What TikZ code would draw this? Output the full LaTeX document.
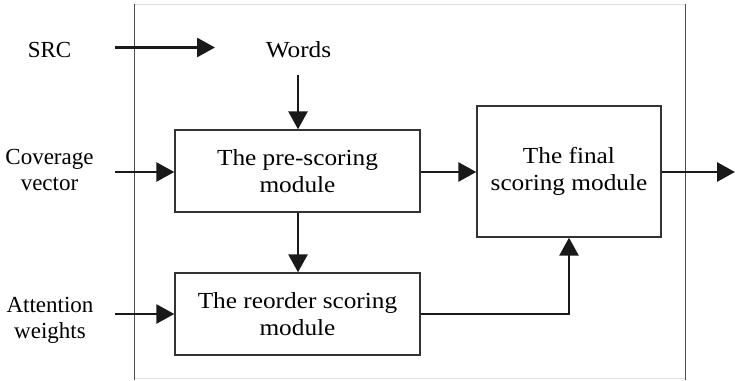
\documentclass[tikz,border=0pt]{standalone}
\usepackage{fontspec}
\setmainfont{Liberation Serif}[FakeStretch=1.1]
\newfontfamily\plainserif{Liberation Serif}
\usetikzlibrary{arrows.meta}
\begin{document}
\begin{tikzpicture}[x=1pt,y=-1pt,
  box/.style={draw=black!80,line width=1.4pt,align=center,inner sep=0pt,font=\fontsize{23}{26.3}\selectfont},
  lbl/.style={align=center,inner sep=0pt,font=\plainserif\fontsize{23}{26}\selectfont},
  wlbl/.style={align=center,inner sep=0pt,font=\fontsize{23}{26}\selectfont},
  arr/.style={line width=2.8pt,draw=black!90,-{Triangle[length=18pt,width=19pt]}},
  frame/.style={draw=black!70,line width=0.9pt}]
\useasboundingbox (0,0) rectangle (735,380);
% frame
\draw[draw=black!12,line width=0.9pt] (134,4) -- (685,4);
\draw[draw=black!12,line width=0.9pt] (134,378) -- (685,378);
\draw[frame] (134,4) -- (134,380);
\draw[frame] (685,4) -- (685,380);
% boxes
\node[box,minimum width=245pt,minimum height=82pt] (pre) at (297.5,171) {The pre-scoring\\module};
\node[box,minimum width=245pt,minimum height=82pt] (reo) at (297.5,314) {The reorder scoring\\module};
\node[box,minimum width=184pt,minimum height=131pt] (fin) at (569,171.5) {The final\\scoring module};
% labels
\node[lbl] (src) at (49.5,50) {SRC};
\node[wlbl] (words) at (298.5,50) {Words};
\node[lbl] (cov) at (49.5,170) {Coverage\\vector};
\node[lbl] (att) at (50,320) {Attention\\weights};
% free ends
\coordinate (srcA) at (115,47.5);
\coordinate (srcB) at (215,47.5);
\coordinate (wA) at (298,75);
\coordinate (covA) at (115,172);
\coordinate (attA) at (115,314);
\coordinate (out) at (735,172);
% arrows
\draw[arr] (srcA) -- (srcB);
\draw[arr] (wA) -- (pre.north -| wA);
\draw[arr] (covA) -- (covA -| pre.west);
\draw[arr] (attA) -- (attA -| reo.west);
\draw[arr] (pre.east |- covA) -- (covA -| fin.west);
\draw[arr] (pre.south -| wA) -- (reo.north -| wA);
\draw[arr] (fin.east |- out) -- (out);
\draw[arr] (reo.east |- attA) -- (569,314) -- (fin.south);
\end{tikzpicture}
\end{document}
